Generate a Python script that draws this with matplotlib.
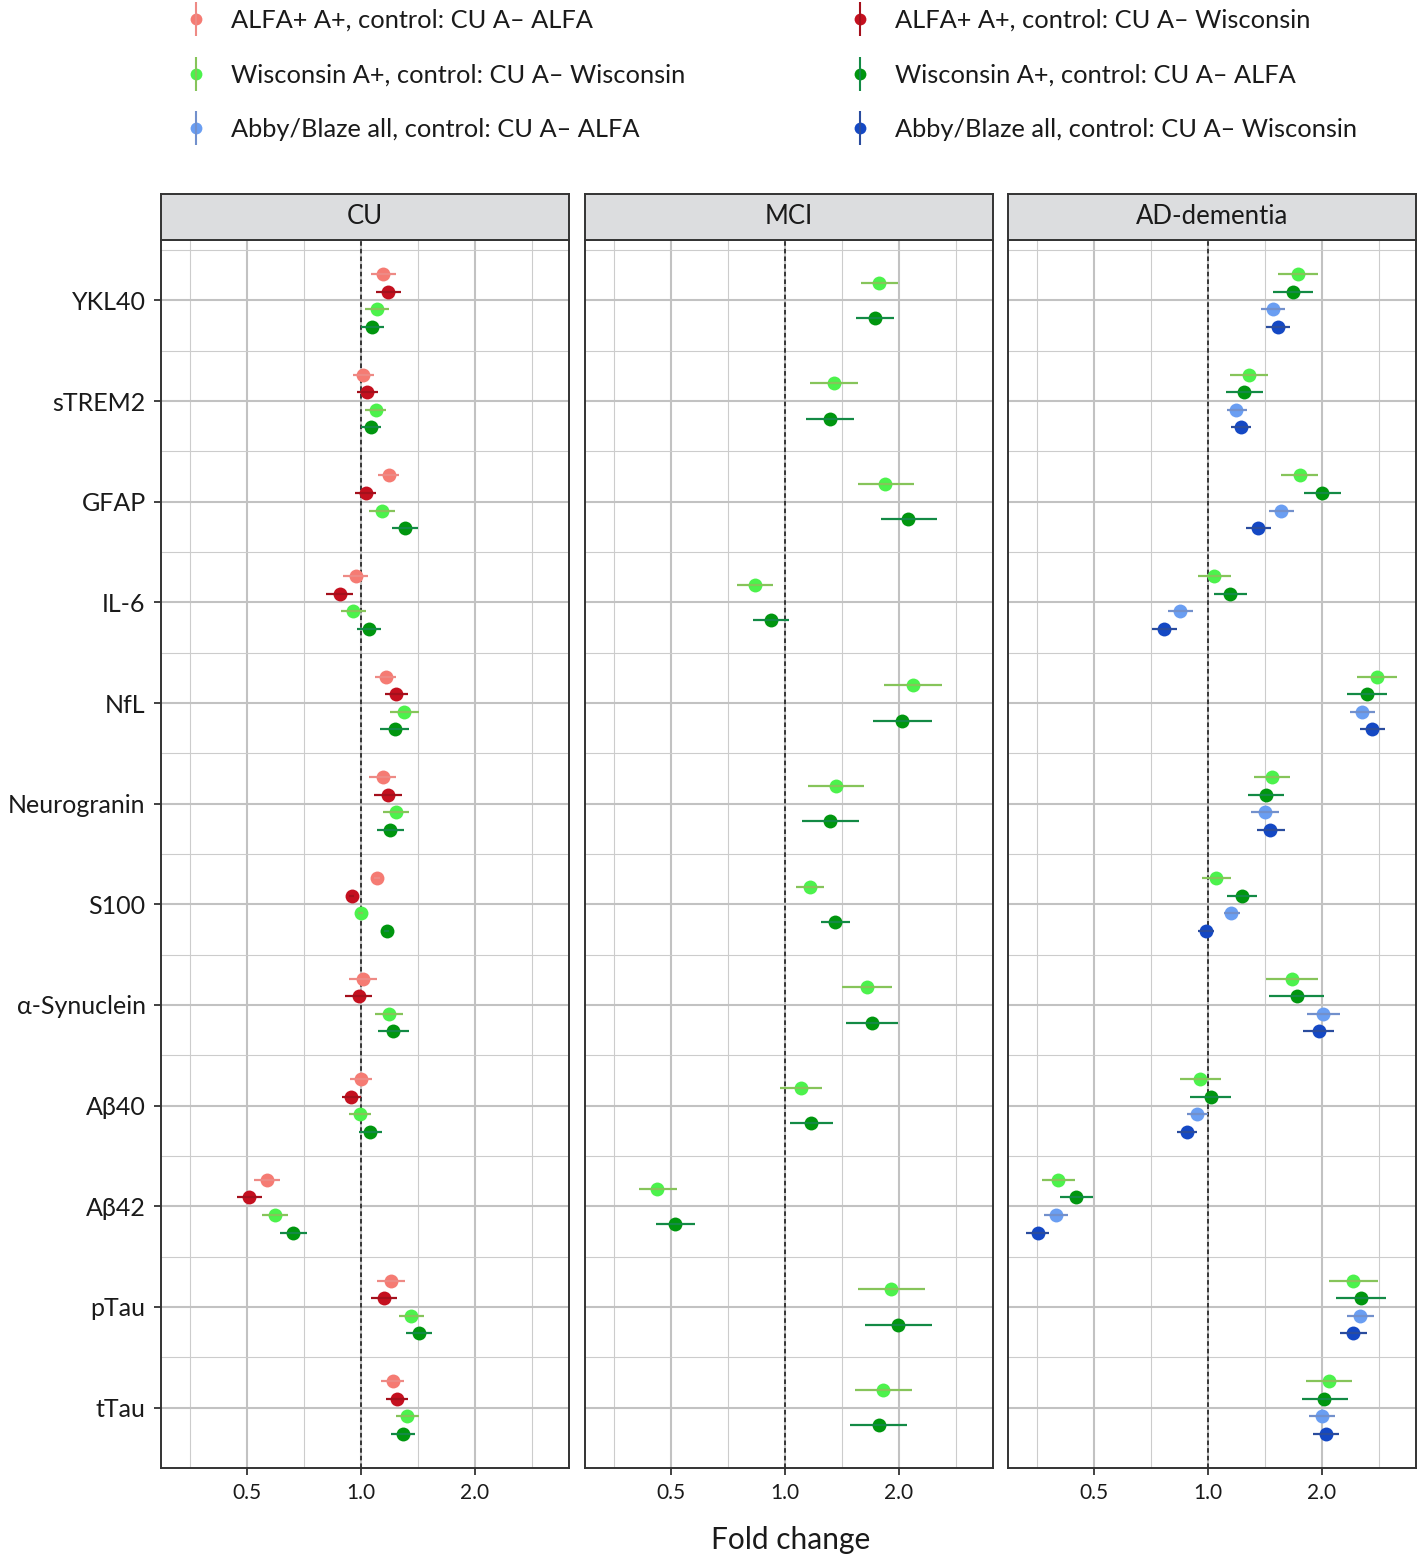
import matplotlib
matplotlib.use("Agg")
import matplotlib.pyplot as plt
import numpy as np
from matplotlib.lines import Line2D
from matplotlib.legend_handler import HandlerTuple
from matplotlib.ticker import FixedLocator, NullFormatter

plt.rcParams["font.family"] = ["Lato", "DejaVu Sans"]

biomarkers = ["YKL40", "sTREM2", "GFAP", "IL-6", "NfL", "Neurogranin", "S100",
              "α-Synuclein", "Aβ40", "Aβ42", "pTau", "tTau"]
panels = ["CU", "MCI", "AD-dementia"]

series_labels = [
    "ALFA+ A+, control: CU A– ALFA",
    "ALFA+ A+, control: CU A– Wisconsin",
    "Wisconsin A+, control: CU A– Wisconsin",
    "Wisconsin A+, control: CU A– ALFA",
    "Abby/Blaze all, control: CU A– ALFA",
    "Abby/Blaze all, control: CU A– Wisconsin",
]
point_colors = ["#F57B73", "#C4101F", "#4CF24C", "#00960F", "#6A9EF2", "#1448C4"]
line_colors = ["#EE8A85", "#A4101C", "#86C45A", "#138A45", "#7290CC", "#2A4C9E"]

# fold change estimates and 95% CI per panel / comparison, in biomarker order
cu_alfa_alfa_fc = [1.146, 1.013, 1.183, 0.968, 1.162, 1.141, 1.104, 1.014, 1.003, 0.564, 1.200, 1.212]
cu_alfa_alfa_lo = [1.061, 0.951, 1.111, 0.898, 1.091, 1.050, 1.085, 0.930, 0.936, 0.523, 1.104, 1.131]
cu_alfa_alfa_hi = [1.241, 1.080, 1.262, 1.047, 1.241, 1.241, 1.123, 1.106, 1.072, 0.610, 1.306, 1.301]

cu_alfa_wisc_fc = [1.178, 1.039, 1.029, 0.878, 1.237, 1.180, 0.945, 0.986, 0.939, 0.505, 1.148, 1.244]
cu_alfa_wisc_lo = [1.093, 0.978, 0.966, 0.810, 1.159, 1.084, 0.929, 0.909, 0.889, 0.469, 1.063, 1.164]
cu_alfa_wisc_hi = [1.277, 1.111, 1.097, 0.951, 1.328, 1.288, 0.961, 1.067, 1.000, 0.547, 1.249, 1.333]

cu_wisc_wisc_fc = [1.102, 1.093, 1.136, 0.955, 1.303, 1.235, 0.998, 1.183, 0.992, 0.592, 1.360, 1.325]
cu_wisc_wisc_lo = [1.027, 1.027, 1.052, 0.886, 1.195, 1.143, 0.981, 1.089, 0.928, 0.548, 1.259, 1.237]
cu_wisc_wisc_hi = [1.188, 1.166, 1.227, 1.029, 1.425, 1.341, 1.015, 1.291, 1.065, 0.641, 1.472, 1.425]

cu_wisc_alfa_fc = [1.071, 1.061, 1.306, 1.050, 1.227, 1.195, 1.169, 1.217, 1.054, 0.663, 1.422, 1.293]
cu_wisc_alfa_lo = [0.998, 0.998, 1.209, 0.978, 1.122, 1.104, 1.149, 1.111, 0.986, 0.612, 1.314, 1.200]
cu_wisc_alfa_hi = [1.154, 1.131, 1.416, 1.131, 1.341, 1.296, 1.189, 1.336, 1.134, 0.719, 1.545, 1.394]

mci_wisc_wisc_fc = [1.774, 1.350, 1.844, 0.832, 2.178, 1.363, 1.162, 1.649, 1.102, 0.460, 1.913, 1.819]
mci_wisc_wisc_lo = [1.588, 1.166, 1.558, 0.747, 1.825, 1.150, 1.069, 1.417, 0.970, 0.410, 1.562, 1.530]
mci_wisc_wisc_hi = [1.996, 1.565, 2.192, 0.930, 2.608, 1.623, 1.268, 1.924, 1.257, 0.518, 2.352, 2.164]

mci_wisc_alfa_fc = [1.731, 1.312, 2.121, 0.916, 2.045, 1.318, 1.358, 1.701, 1.174, 0.513, 1.996, 1.768]
mci_wisc_alfa_lo = [1.540, 1.136, 1.793, 0.823, 1.711, 1.109, 1.247, 1.449, 1.031, 0.457, 1.627, 1.488]
mci_wisc_alfa_hi = [1.948, 1.521, 2.519, 1.025, 2.444, 1.568, 1.484, 1.996, 1.339, 0.579, 2.454, 2.108]

ad_wisc_wisc_fc = [1.729, 1.285, 1.747, 1.039, 2.803, 1.474, 1.052, 1.664, 0.953, 0.402, 2.423, 2.086]
ad_wisc_wisc_lo = [1.532, 1.147, 1.563, 0.943, 2.478, 1.324, 0.963, 1.421, 0.842, 0.364, 2.086, 1.819]
ad_wisc_wisc_hi = [1.952, 1.439, 1.960, 1.149, 3.171, 1.644, 1.152, 1.960, 1.080, 0.444, 2.820, 2.408]

ad_wisc_alfa_fc = [1.681, 1.249, 2.008, 1.145, 2.634, 1.421, 1.229, 1.715, 1.016, 0.449, 2.533, 2.032]
ad_wisc_alfa_lo = [1.489, 1.117, 1.794, 1.039, 2.328, 1.277, 1.124, 1.453, 0.895, 0.406, 2.176, 1.771]
ad_wisc_alfa_hi = [1.897, 1.399, 2.253, 1.267, 2.983, 1.586, 1.346, 2.024, 1.149, 0.497, 2.955, 2.341]

ad_abby_alfa_fc = [1.486, 1.190, 1.559, 0.846, 2.554, 1.413, 1.152, 2.017, 0.938, 0.397, 2.523, 2.000]
ad_abby_alfa_lo = [1.384, 1.124, 1.448, 0.786, 2.370, 1.300, 1.102, 1.826, 0.878, 0.369, 2.328, 1.848]
ad_abby_alfa_hi = [1.601, 1.267, 1.688, 0.913, 2.768, 1.541, 1.212, 2.235, 1.002, 0.427, 2.753, 2.173]

ad_abby_wisc_fc = [1.528, 1.226, 1.359, 0.767, 2.719, 1.462, 0.986, 1.964, 0.880, 0.355, 2.423, 2.053]
ad_abby_wisc_lo = [1.424, 1.154, 1.261, 0.711, 2.523, 1.348, 0.942, 1.786, 0.827, 0.331, 2.235, 1.897]
ad_abby_wisc_hi = [1.647, 1.300, 1.468, 0.830, 2.942, 1.598, 1.035, 2.160, 0.938, 0.381, 2.628, 2.227]

# (series index, fc, lo, hi) for each facet, top-to-bottom dodge order
panel_series = {
    "CU": [(0, cu_alfa_alfa_fc, cu_alfa_alfa_lo, cu_alfa_alfa_hi),
           (1, cu_alfa_wisc_fc, cu_alfa_wisc_lo, cu_alfa_wisc_hi),
           (2, cu_wisc_wisc_fc, cu_wisc_wisc_lo, cu_wisc_wisc_hi),
           (3, cu_wisc_alfa_fc, cu_wisc_alfa_lo, cu_wisc_alfa_hi)],
    "MCI": [(2, mci_wisc_wisc_fc, mci_wisc_wisc_lo, mci_wisc_wisc_hi),
            (3, mci_wisc_alfa_fc, mci_wisc_alfa_lo, mci_wisc_alfa_hi)],
    "AD-dementia": [(2, ad_wisc_wisc_fc, ad_wisc_wisc_lo, ad_wisc_wisc_hi),
                    (3, ad_wisc_alfa_fc, ad_wisc_alfa_lo, ad_wisc_alfa_hi),
                    (4, ad_abby_alfa_fc, ad_abby_alfa_lo, ad_abby_alfa_hi),
                    (5, ad_abby_wisc_fc, ad_abby_wisc_lo, ad_abby_wisc_hi)],
}

W, H = 1417, 1557
fig = plt.figure(figsize=(W / 100, H / 100), dpi=100)

panel_left = [161, 585, 1008]
panel_w = 408
top_px, bottom_px, strip_px = 240, 1468, 46
text_col = "#1a1a1a"
border_col = "#333333"
grid_col = "#c2c2c2"

y_pos = np.arange(len(biomarkers))
for p, name in enumerate(panels):
    x0 = panel_left[p]
    ax = fig.add_axes([x0 / W, 1 - bottom_px / H, panel_w / W, (bottom_px - top_px) / H])
    ax.set_xscale("log", base=2)
    ax.set_xlim(0.296, 3.55)
    ax.set_ylim(len(biomarkers) - 0.4, -0.6)

    ax.set_xticks([0.5, 1, 2])
    ax.set_xticklabels(["0.5", "1.0", "2.0"])
    ax.xaxis.set_minor_locator(FixedLocator([2 ** -1.5, 2 ** -0.5, 2 ** 0.5, 2 ** 1.5]))
    ax.xaxis.set_minor_formatter(NullFormatter())
    ax.set_yticks(y_pos)
    ax.yaxis.set_minor_locator(FixedLocator(np.arange(-0.5, len(biomarkers) - 1, 1.0)))
    if p == 0:
        ax.set_yticklabels(biomarkers)
    else:
        ax.set_yticklabels([])
    ax.tick_params(axis="both", which="major", length=5, width=1.3, color=border_col,
                   labelsize=15, labelcolor=text_col, pad=6)
    ax.tick_params(axis="y", which="major", labelsize=18, pad=6, length=0 if p else 5)
    ax.tick_params(axis="both", which="minor", length=0)

    ax.grid(True, which="major", color=grid_col, lw=1.5, zorder=0)
    ax.grid(True, which="minor", color="#cccccc", lw=0.8, zorder=0)
    ax.set_axisbelow(True)
    for s in ax.spines.values():
        s.set_color(border_col)
        s.set_linewidth(1.4)

    ax.axvline(1.0, color="#111111", lw=1.1, ls=(0, (3, 2)), zorder=2)

    entries = panel_series[name]
    n = len(entries)
    offsets = (np.arange(n) - (n - 1) / 2) * 0.7 / n
    for k, (si, fc, lo, hi) in enumerate(entries):
        yy = y_pos + offsets[k]
        ax.plot(fc, yy, "o", ms=10, color=point_colors[si], mec="none", zorder=3)
        ax.hlines(yy, lo, hi, color=line_colors[si], lw=1.6, zorder=4)

    # facet strip
    sax = fig.add_axes([x0 / W, 1 - top_px / H, panel_w / W, strip_px / H])
    sax.set_facecolor("#dcdddf")
    sax.set_xticks([])
    sax.set_yticks([])
    for s in sax.spines.values():
        s.set_color(border_col)
        s.set_linewidth(1.4)
    sax.text(0.5, 0.5, name, ha="center", va="center", fontsize=18.5, color=text_col,
             transform=sax.transAxes)

fig.text(791 / W, 1 - 1540 / H, "Fold change", ha="center", va="center",
         fontsize=21.5, color=text_col)

# legend: two columns placed separately
leg_fs = 18.3
fs_px = leg_fs * 100 / 72


def legend_handle(i):
    dot = Line2D([], [], marker="o", ms=8.5, color=point_colors[i], mec="none", ls="none")
    bar = Line2D([], [], marker="|", ms=24, mew=1.5, color=line_colors[i], ls="none")
    return (dot, bar)


for col, idx in enumerate([[0, 2, 4], [1, 3, 5]]):
    key_x = [196, 860][col]
    leg = fig.legend([legend_handle(i) for i in idx], [series_labels[i] for i in idx],
                     handler_map={tuple: HandlerTuple(ndivide=1, pad=0)},
                     loc="center left",
                     bbox_to_anchor=((key_x - fs_px * 0.5) / W, 1 - 75 / H),
                     frameon=False, fontsize=leg_fs, handlelength=1.0,
                     handletextpad=(35 - fs_px * 0.5) / fs_px, labelspacing=1.25,
                     borderpad=0, borderaxespad=0)
    for t in leg.get_texts():
        t.set_color(text_col)

fig.savefig("out.png", dpi=100)
